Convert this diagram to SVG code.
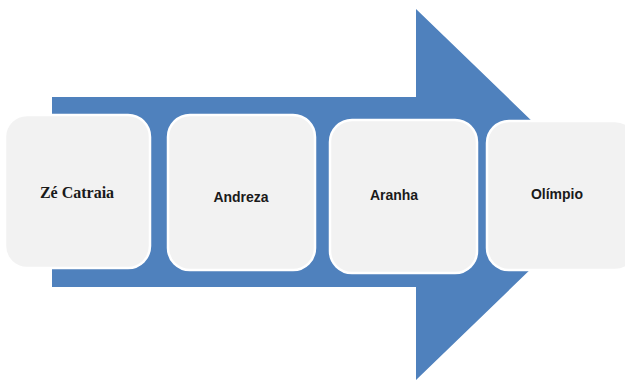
<svg xmlns="http://www.w3.org/2000/svg" width="625" height="381" viewBox="0 0 625 381">
<style>
.box{fill:#F2F2F2;stroke:#FFFFFF;stroke-width:2.5}
.lbl{font-family:"Liberation Sans",Arial,sans-serif;font-weight:bold;font-size:14px;fill:#1a1a1a;text-anchor:middle;dominant-baseline:central}
.ser{font-family:"Liberation Serif","Times New Roman",serif;font-size:16px}
</style>
<rect width="625" height="381" fill="#FFFFFF"/>
<g id="arrow">
<polygon points="52,97 416,97 416,9 608,194.5 416,380 416,287 52,287" fill="#4F81BD"/>
</g>
<g id="connectors"/>
<g id="node1"><rect class="box" x="5" y="115" width="145" height="153" rx="22"/><text class="lbl ser" x="77" y="192">Zé Catraia</text></g>
<g id="node2"><rect class="box" x="168" y="115" width="147" height="155" rx="22"/><text class="lbl" x="241" y="197">Andreza</text></g>
<g id="node3"><rect class="box" x="330" y="120" width="147" height="153" rx="22"/><text class="lbl" x="394" y="195">Aranha</text></g>
<g id="node4"><rect class="box" x="487" y="121" width="150" height="149" rx="22"/><text class="lbl" x="557" y="194">Olímpio</text></g>
</svg>
